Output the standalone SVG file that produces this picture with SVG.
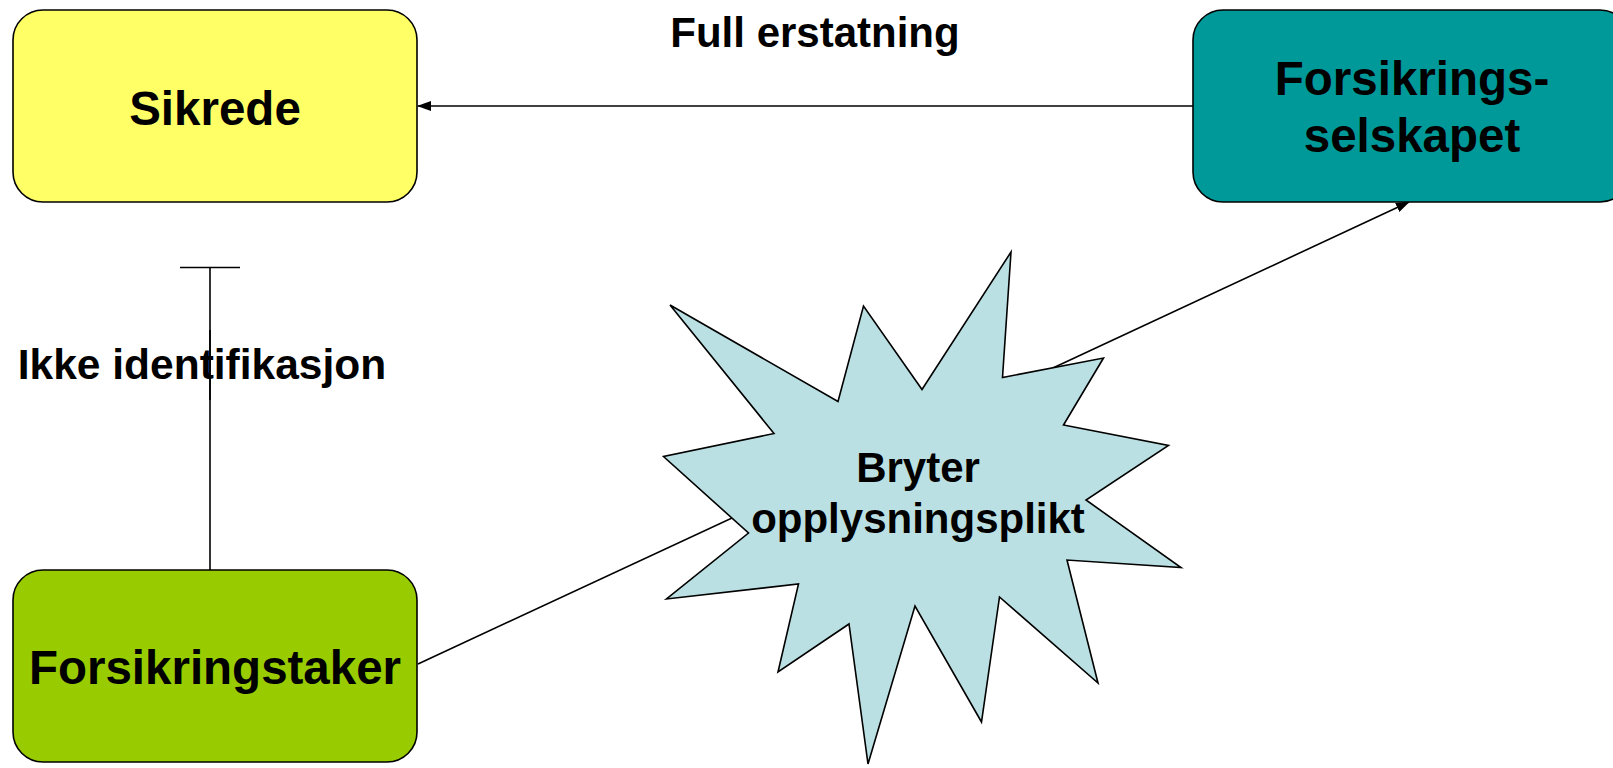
<svg xmlns="http://www.w3.org/2000/svg" width="1613" height="768" viewBox="0 0 1613 768">
  <style>
    .box { stroke: #000; stroke-width: 1.6; }
    .lbl { font-family: "Liberation Sans", Arial, sans-serif; font-weight: bold; fill: #000; }
    .big { font-size: 47.5px; }
    .mid { font-size: 42px; }
    .conn { stroke: #000; stroke-width: 1.6; fill: none; }
  </style>
  <defs>
    <marker id="arrow" viewBox="0 0 14 10" refX="13" refY="5" markerWidth="14" markerHeight="10" markerUnits="userSpaceOnUse" orient="auto">
      <path d="M0,0 L14,5 L0,10 Z" fill="#000"/>
    </marker>
  </defs>
  <rect width="1613" height="768" fill="#fff"/>

  <g id="connectors">
    <line class="conn" x1="1193" y1="106" x2="418" y2="106" marker-end="url(#arrow)"/>
    <line class="conn" x1="1040" y1="374" x2="1409" y2="202" marker-end="url(#arrow)"/>
    <line class="conn" x1="418" y1="664" x2="760" y2="505"/>
    <line class="conn" x1="210" y1="267.5" x2="210" y2="570"/>
    <line class="conn" x1="180" y1="267.5" x2="240" y2="267.5"/>
  </g>

  <g id="sikrede">
    <rect class="box" x="13" y="10" width="404" height="192" rx="30" ry="30" fill="#FFFF66"/>
    <text class="lbl big" x="215" y="125" text-anchor="middle">Sikrede</text>
  </g>

  <g id="forsikringsselskapet">
    <rect class="box" x="1193" y="10" width="437" height="192" rx="30" ry="30" fill="#009999"/>
    <text class="lbl big" x="1412" y="95" text-anchor="middle">Forsikrings-</text>
    <text class="lbl big" x="1412" y="152" text-anchor="middle">selskapet</text>
  </g>

  <g id="forsikringstaker">
    <rect class="box" x="13" y="570" width="404" height="192" rx="30" ry="30" fill="#99CC00"/>
    <text class="lbl big" x="215" y="684" text-anchor="middle">Forsikringstaker</text>
  </g>

  <g id="brudd">
    <polygon class="box" fill="#BBE0E3" points="670,305 838,401.5 863.5,306 922,389.5 1011,252 1002.5,377.5 1103.5,358 1063.5,425 1168.5,445.5 1086,500 1181,567.5 1067,560 1098,683 999.5,597 981.5,722 915,606 868,764 849,624 778,672 798.5,584 666.5,599 748.5,533 663.5,456.5 774,433.5"/>
    <text class="lbl mid" x="918" y="482" text-anchor="middle">Bryter</text>
    <text class="lbl mid" x="918" y="533" text-anchor="middle">opplysningsplikt</text>
  </g>

  <g id="labels">
    <text class="lbl mid" x="815" y="47" text-anchor="middle">Full erstatning</text>
    <text class="lbl" x="202" y="379" text-anchor="middle" font-size="42.5px">Ikke identifikasjon</text>
  </g>
  <line class="conn" x1="210" y1="330" x2="210" y2="400"/>
</svg>
